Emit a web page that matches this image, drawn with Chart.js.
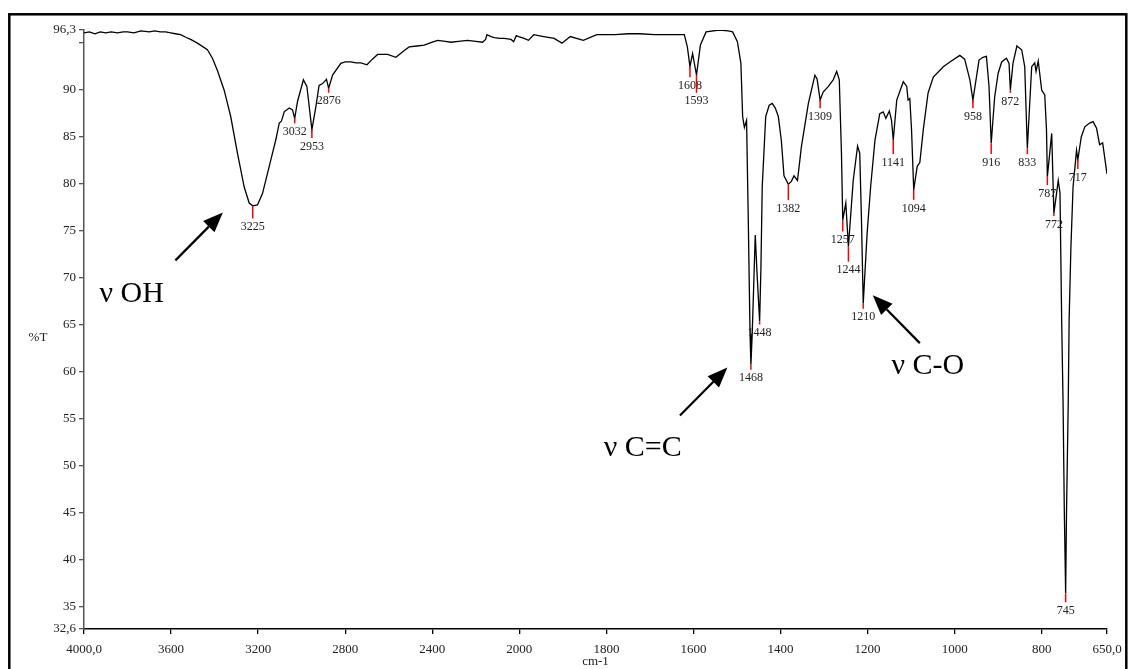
<!DOCTYPE html>
<html>
<head>
<meta charset="utf-8">
<script src="https://cdn.jsdelivr.net/npm/chart.js@4.4.1/dist/chart.umd.min.js"></script>
<style>
  html, body { margin: 0; padding: 0; background: #fff; }
  canvas { display: block; }
</style>
</head>
<body>
<canvas id="irChart" width="1130" height="669"></canvas>
<script>
// IR spectrum: wavenumber (cm-1) and %T
const wavenumbers = [
    4000, 3975, 3950, 3925, 3900, 3875, 3847, 3820, 3800, 3770, 3739, 3700, 3675, 3650, 3625, 3602, 3580,
    3556, 3530, 3510, 3479, 3433, 3410, 3387, 3356, 3326, 3295, 3264, 3241, 3225, 3203, 3180, 3149,
    3119, 3103, 3093, 3080, 3057, 3042, 3032, 3019, 2992, 2976, 2953, 2935, 2920, 2904, 2886, 2876,
    2858, 2820, 2800, 2774, 2750, 2728, 2700, 2675, 2651, 2630, 2605, 2567, 2530, 2506, 2470, 2437,
    2400, 2375, 2340, 2314, 2280, 2238, 2200, 2169, 2155, 2149, 2130, 2115, 2090, 2070, 2038, 2026,
    2014, 2003, 1989, 1979, 1967, 1944, 1920, 1902, 1883, 1853, 1822, 1780, 1750, 1723, 1690, 1662,
    1621, 1614, 1608, 1602, 1593, 1584, 1571, 1541, 1520, 1510, 1499, 1491, 1487, 1483, 1478, 1474,
    1470, 1468, 1465, 1461, 1458, 1454, 1448, 1445, 1442, 1434, 1426, 1419, 1412, 1405, 1398, 1392,
    1382, 1375, 1369, 1361, 1352, 1336, 1321, 1316, 1309, 1302, 1290, 1279, 1271, 1265, 1260, 1257,
    1250, 1244, 1233, 1223, 1218, 1214, 1210, 1201, 1193, 1183, 1172, 1164, 1158, 1150, 1145, 1141,
    1133, 1118, 1110, 1107, 1103, 1099, 1094, 1086, 1080, 1072, 1061, 1049, 1026, 1011, 988, 977,
    965, 958, 944, 935, 927, 921, 916, 908, 900, 892, 881, 875, 872, 866, 857, 846,
    839, 833, 823, 816, 813, 808, 800, 793, 789, 787, 777, 772, 762, 758, 754, 751,
    748, 745, 743, 739, 737, 733, 728, 720, 717, 709, 701, 690, 682, 674, 667, 660,
    650
];
const transmittance = [
    96.0, 96.1, 95.9, 96.1, 96.0, 96.1, 96.0, 96.1, 96.1, 96.0, 96.2, 96.1, 96.2, 96.1, 96.1, 96.0, 95.9,
    95.8, 95.5, 95.3, 94.9, 94.2, 93.3, 92.0, 89.9, 87.1, 83.2, 79.6, 77.9, 77.6, 77.7, 78.9, 81.8,
    84.6, 86.4, 86.6, 87.6, 88.0, 87.8, 86.9, 88.7, 91.0, 90.3, 85.7, 88.1, 90.4, 90.6, 91.05, 90.1,
    91.5, 92.75, 92.9, 92.9, 92.8, 92.8, 92.6, 93.2, 93.7, 93.7, 93.7, 93.4, 94.1, 94.5, 94.6, 94.7,
    95.0, 95.2, 95.1, 95.0, 95.1, 95.2, 95.1, 95.0, 95.3, 95.8, 95.6, 95.5, 95.4, 95.4, 95.3, 95.05,
    95.7, 95.6, 95.4, 95.2, 95.8, 95.6, 95.4, 94.9, 95.6, 95.2, 95.8, 95.8, 95.9, 95.9, 95.8, 95.8,
    95.8, 94.5, 92.4, 93.8, 91.5, 94.7, 96.1, 96.3, 96.2, 96.1, 95.05, 92.75, 87.1, 85.95, 86.7, 76.0,
    64.0, 60.7, 64.0, 70.0, 74.5, 70.5, 65.3, 71.0, 79.6, 87.1, 88.3, 88.5, 88.0, 87.1, 84.5, 80.8,
    79.9, 80.2, 80.8, 80.3, 83.9, 88.5, 91.5, 91.1, 88.85, 89.7, 90.3, 91.0, 91.9, 91.0, 83.2, 76.1,
    77.9, 73.25, 80.3, 83.95, 83.2, 76.1, 67.2, 74.7, 79.6, 84.6, 87.4, 87.6, 86.9, 87.7, 86.7, 84.6,
    88.85, 90.8, 90.3, 88.85, 89.0, 85.7, 79.3, 81.8, 82.2, 85.7, 89.6, 91.3, 92.4, 92.9, 93.6, 93.2,
    91.0, 88.85, 93.1, 93.4, 93.5, 90.3, 84.25, 89.2, 91.7, 92.9, 93.3, 92.75, 89.9, 92.75, 94.6, 94.2,
    92.4, 83.7, 92.4, 92.8, 91.9, 93.0, 89.9, 89.4, 85.7, 80.7, 85.3, 76.8, 80.3, 79.0, 65.0, 56.9,
    45.0, 36.4, 45.0, 56.9, 65.45, 73.0, 79.6, 83.5, 82.5, 84.95, 86.0, 86.4, 86.55, 85.85, 84.1, 84.3,
    81.0
];

// picked peaks
const peakWavenumbers = [3225, 3032, 2953, 2876, 1608, 1593, 1468, 1448, 1382, 1309, 1257, 1244,
    1210, 1141, 1094, 958, 916, 872, 833, 787, 772, 745, 717];
const peakTransmittance = [77.6, 86.9, 85.7, 90.1, 92.4, 91.5, 60.7, 65.3, 79.9, 88.85, 76.1, 73.25,
    67.2, 84.6, 79.3, 88.85, 84.25, 89.9, 83.7, 80.7, 76.8, 36.4, 82.5];

const yTickValues = [32.6, 35, 40, 45, 50, 55, 60, 65, 70, 75, 80, 85, 90, 95, 96.3];
const xTickValues = [4000, 3600, 3200, 2800, 2400, 2000, 1800, 1600, 1400, 1200, 1000, 800, 650];

// band assignments: text anchor and arrow, in (cm-1, %T)
const bandNames = ['ν OH', 'ν C=C', 'ν C-O'];
const bandTextAt = [[3929, 67.4], [1806, 51.0], [1145, 59.7]];
const bandArrowFrom = [[3580, 71.8], [1631, 55.3], [1080, 63.0]];
const bandArrowTo = [[3362, 76.9], [1522, 60.4], [1188, 68.1]];

// the spectrometer doubles the scale below 2000 cm-1
function toAxis(w)
{
    return w >= 2000 ? (4000 - w) / 2 : 1000 + (2000 - w);
}
function fromAxis(u)
{
    return u <= 1000 ? 4000 - 2 * u : 2000 - (u - 1000);
}

const serif = '"Liberation Serif", "Times New Roman", serif';

function drawArrow(ctx, x0, y0, x1, y1)
{
    const a = Math.atan2(y1 - y0, x1 - x0);
    const head = 20, half = 8;
    const bx = x1 - head * Math.cos(a);
    const by = y1 - head * Math.sin(a);
    ctx.lineWidth = 2.2;
    ctx.beginPath();
    ctx.moveTo(x0, y0);
    ctx.lineTo(bx, by);
    ctx.stroke();
    ctx.beginPath();
    ctx.moveTo(x1, y1);
    ctx.lineTo(bx + half * Math.sin(a), by - half * Math.cos(a));
    ctx.lineTo(bx - half * Math.sin(a), by + half * Math.cos(a));
    ctx.closePath();
    ctx.fill();
}

const annotate = {
    id: 'annotate',
    afterDatasetsDraw(chart, args, opts)
    {
        const { ctx, scales: { x, y } } = chart;
        ctx.save();

        // peak picks
        ctx.font = '12px ' + serif;
        ctx.textAlign = 'center';
        ctx.textBaseline = 'middle';
        peakWavenumbers.forEach((w, i) =>
        {
            const px = x.getPixelForValue(toAxis(w));
            const py = y.getPixelForValue(peakTransmittance[i]);
            const len = opts.markerLength[i];
            ctx.strokeStyle = '#ff0000';
            ctx.lineWidth = 1.5;
            ctx.beginPath();
            ctx.moveTo(px, py);
            ctx.lineTo(px, py + len);
            ctx.stroke();
            ctx.fillStyle = '#222';
            ctx.fillText(String(w), px, py + len + 8.5);
        });

        // band assignments
        ctx.fillStyle = '#000';
        ctx.strokeStyle = '#000';
        ctx.font = '30px ' + serif;
        ctx.textAlign = 'left';
        ctx.textBaseline = 'alphabetic';
        bandNames.forEach((name, i) =>
        {
            ctx.fillText(name, x.getPixelForValue(toAxis(bandTextAt[i][0])), y.getPixelForValue(bandTextAt[i][1]));
            drawArrow(ctx,
                x.getPixelForValue(toAxis(bandArrowFrom[i][0])), y.getPixelForValue(bandArrowFrom[i][1]),
                x.getPixelForValue(toAxis(bandArrowTo[i][0])), y.getPixelForValue(bandArrowTo[i][1]));
        });

        // %T label
        ctx.font = '13px ' + serif;
        ctx.textAlign = 'center';
        ctx.textBaseline = 'middle';
        ctx.fillStyle = '#222';
        ctx.fillText('%T', 38, 338);
        ctx.restore();
    },
    afterDraw(chart)
    {
        const ctx = chart.ctx;
        ctx.save();
        ctx.strokeStyle = '#000';
        ctx.lineWidth = 2.5;
        ctx.strokeRect(9.3, 14.3, 1117, 670);
        ctx.restore();
    }
};

const points = wavenumbers.map((w, i) => ({ x: toAxis(w), y: transmittance[i] }));

new Chart(document.getElementById('irChart'), {
    type: 'line',
    data: {
        datasets: [
            {
                data: points,
                borderColor: '#000',
                borderWidth: 1.3,
                pointRadius: 0,
                tension: 0,
                fill: false
            }
        ]
    },
    options: {
        responsive: false,
        maintainAspectRatio: false,
        animation: false,
        events: [],
        layout: {
            padding: { top: 30, right: 23, bottom: 0, left: 0 }
        },
        plugins: {
            legend: { display: false },
            tooltip: { enabled: false },
            annotate: {
                markerLength: [12.6, 5, 8.3, 4.4, 10.6, 17.7, 5, 3, 16, 8.3, 11.5, 15,
                    5, 14, 10, 8.3, 10.7, 2.7, 5.7, 8.3, 2.7, 9, 9.3]
            }
        },
        scales: {
            x: {
                type: 'linear',
                min: 0,
                max: toAxis(650),
                afterBuildTicks: (scale) =>
                {
                    scale.ticks = xTickValues.map(w => ({ value: toAxis(w) }));
                },
                afterFit: (scale) =>
                {
                    scale.height = 40;
                },
                ticks: {
                    autoSkip: false,
                    maxRotation: 0,
                    padding: 8,
                    color: '#222',
                    font: { family: serif, size: 13 },
                    callback: function (value)
                    {
                        const w = Math.round(fromAxis(value));
                        return (w === 4000 || w === 650) ? w + ',0' : String(w);
                    }
                },
                grid: {
                    drawOnChartArea: false,
                    drawTicks: true,
                    tickLength: 5,
                    color: '#000',
                    lineWidth: 1.3
                },
                border: { display: true, color: '#000', width: 1.5 },
                title: {
                    display: true,
                    text: 'cm-1',
                    color: '#222',
                    font: { family: serif, size: 13 },
                    padding: { top: 0, bottom: 0 }
                }
            },
            y: {
                type: 'linear',
                min: 32.6,
                max: 96.3,
                afterBuildTicks: (scale) =>
                {
                    scale.ticks = yTickValues.map(v => ({ value: v }));
                },
                afterFit: (scale) =>
                {
                    scale.width = 84;
                },
                ticks: {
                    autoSkip: false,
                    padding: 3,
                    color: '#222',
                    font: { family: serif, size: 13 },
                    callback: function (value)
                    {
                        if (value === 95) return '';
                        if (value === 96.3) return '96,3';
                        if (value === 32.6) return '32,6';
                        return String(value);
                    }
                },
                grid: {
                    drawOnChartArea: false,
                    drawTicks: true,
                    tickLength: 5,
                    color: '#555',
                    lineWidth: 1.3
                },
                border: { display: true, color: '#555', width: 1.5 }
            }
        }
    },
    plugins: [annotate]
});
</script>
</body>
</html>
